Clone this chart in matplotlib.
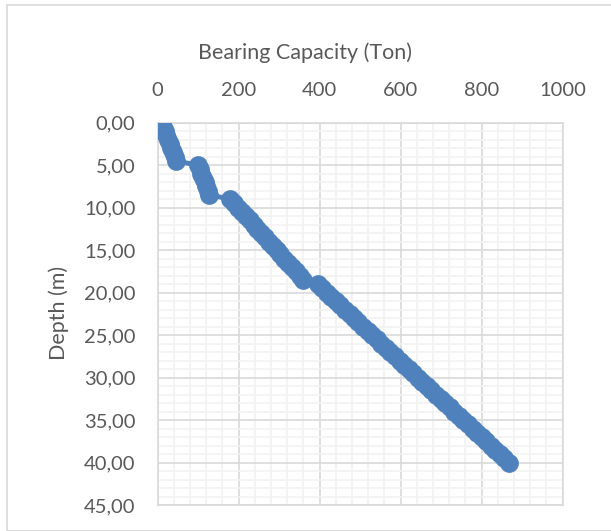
import numpy as np
import matplotlib
matplotlib.use('Agg')
import matplotlib.pyplot as plt
from matplotlib.patches import Rectangle
from matplotlib.ticker import MultipleLocator, FuncFormatter

# depth (m), sampled every 0.5 m
depth = [0.0, 0.5, 1.0, 1.5, 2.0, 2.5, 3.0, 3.5, 4.0, 4.5,
         5.0, 5.5, 6.0, 6.5, 7.0, 7.5, 8.0, 8.5,
         9.0, 9.5, 10.0, 10.5, 11.0, 11.5, 12.0, 12.5, 13.0, 13.5,
         14.0, 14.5, 15.0, 15.5, 16.0, 16.5, 17.0, 17.5, 18.0, 18.5,
         19.0, 19.5, 20.0, 20.5, 21.0, 21.5, 22.0, 22.5, 23.0, 23.5,
         24.0, 24.5, 25.0, 25.5, 26.0, 26.5, 27.0, 27.5, 28.0, 28.5,
         29.0, 29.5, 30.0, 30.5, 31.0, 31.5, 32.0, 32.5, 33.0, 33.5,
         34.0, 34.5, 35.0, 35.5, 36.0, 36.5, 37.0, 37.5, 38.0, 38.5,
         39.0, 39.5, 40.0]
# bearing capacity (ton)
capacity = [10, 14, 18, 22, 26, 30, 34, 38, 42, 46,
            100, 104, 108, 112, 116, 120, 124, 128,
            180, 189.5, 199, 208.5, 218, 227.5, 237, 246.5, 256, 265.5,
            275, 284.5, 294, 303.5, 313, 322.5, 332, 341.5, 351, 360,
            395, 406, 417.5, 429, 440, 451.5, 462.5, 474, 485, 496,
            507.5, 518.5, 530, 541, 552.5, 563.5, 575, 586, 597.5, 608.5,
            620, 631, 642.5, 653.5, 665, 676, 687.5, 698.5, 710, 721,
            732.5, 743.5, 755, 766, 777.5, 788.5, 800, 811, 822.5, 833.5,
            845, 856, 867.5]

plt.rcParams['font.family'] = ['Lato', 'DejaVu Sans']
W, H = 611, 531
fig = plt.figure(figsize=(W/100, H/100), dpi=100)
fig.patches.append(Rectangle((6.5/W, 0), 1.0, 1 - 5/H, transform=fig.transFigure,
                             fill=False, edgecolor='#D9D9D9', lw=1.2))
ax = fig.add_axes([157.5/W, 1 - 505/H, (562.7-157.5)/W, (505-122.7)/H])

ax.plot(capacity, depth, color='#4F81BD', lw=3.5, marker='o', ms=13.5,
        markeredgewidth=0, solid_capstyle='round', zorder=3)

ax.set_xlim(0, 1000)
ax.set_ylim(45, 0)
ax.xaxis.set_major_locator(MultipleLocator(200))
ax.xaxis.set_minor_locator(MultipleLocator(40))
ax.yaxis.set_major_locator(MultipleLocator(5))
ax.yaxis.set_minor_locator(MultipleLocator(1))
ax.yaxis.set_major_formatter(FuncFormatter(lambda v, p: f"{v:.2f}".replace('.', ',')))
ax.xaxis.tick_top()
ax.tick_params(which='both', length=0, labelsize=14.5, colors='#595959')
ax.tick_params(axis='y', pad=16)
ax.tick_params(axis='x', pad=17)
ax.grid(which='major', color='#D9D9D9', lw=1.2)
ax.grid(which='minor', color='#F2F2F2', lw=1.2)
ax.set_axisbelow(True)
for s in ax.spines.values():
    s.set_color('#D9D9D9')
    s.set_linewidth(1.2)

fig.text(305.5/W, 1 - 53/H, "Bearing Capacity (Ton)", ha='center', va='center',
         fontsize=15.5, color='#595959')
fig.text(59/W, 1 - 313/H, "Depth (m)", ha='center', va='center', rotation=90,
         fontsize=15.5, color='#595959')

fig.savefig("out.png", dpi=100)
